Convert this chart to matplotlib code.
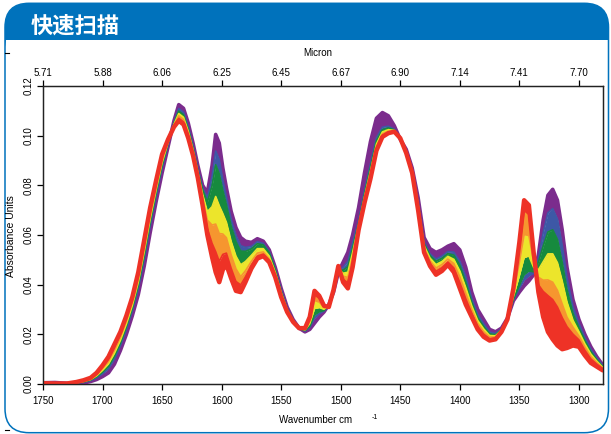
import matplotlib
matplotlib.use("Agg")
import matplotlib.pyplot as plt
from matplotlib.patches import FancyBboxPatch, Rectangle

plt.rcParams['font.family'] = ['Liberation Sans', 'DejaVu Sans']

# ---------------- data ----------------
wavenumber = [1750,1740,1730,1722,1716, 1710,1705,1700,1695,1690,
              1685,1680,1675,1670,1665, 1660,1655,1650,1645,1640,
              1636,1632,1628,1624,1620, 1616,1612,1608,1605,1602,
              1599,1596,1592,1588,1584, 1580,1575,1570,1565,1560,
              1555,1550,1545,1540,1535, 1530,1526,1522,1518,1514,
              1510,1506,1502,1498,1494, 1490,1485,1480,1475,1470,
              1465,1460,1455,1450,1445, 1440,1435,1430,1425,1420,
              1415,1410,1405,1400,1395, 1390,1385,1380,1375,1370,
              1365,1360,1355,1350,1346, 1342,1338,1334,1330,1326,
              1322,1318,1314,1310,1305, 1300,1295,1290,1285,1280]

# band boundaries: first spectrum group (purple) ... last (red)
s0 = [0.0005,0.0006,0.0003,0.0002,0.0004, 0.0010,0.0018,0.0030,0.0045,0.0080,
      0.0135,0.0200,0.0275,0.0360,0.0475, 0.0610,0.0735,0.0850,0.0955,0.1060,
      0.1125,0.1110,0.1050,0.0970,0.0880, 0.0800,0.0770,0.0880,0.1005,0.0970,
      0.0870,0.0790,0.0695,0.0630,0.0590, 0.0575,0.0570,0.0585,0.0575,0.0540,
      0.0470,0.0385,0.0310,0.0260,0.0225, 0.0210,0.0220,0.0245,0.0270,0.0290,
      0.0320,0.0370,0.0450,0.0490,0.0530, 0.0600,0.0710,0.0850,0.0976,0.1070,
      0.1093,0.1080,0.1040,0.0985,0.0945, 0.0870,0.0750,0.0590,0.0545,0.0530,
      0.0540,0.0555,0.0565,0.0540,0.0470, 0.0370,0.0300,0.0260,0.0220,0.0210,
      0.0225,0.0265,0.0335,0.0370,0.0395, 0.0415,0.0440,0.0520,0.0660,0.0760,
      0.0784,0.0740,0.0620,0.0470,0.0340, 0.0260,0.0200,0.0150,0.0110,0.0077]
s1 = [0.0005,0.0005,0.0003,0.0004,0.0007, 0.0014,0.0025,0.0041,0.0061,0.0100,
      0.0154,0.0219,0.0294,0.0383,0.0501, 0.0635,0.0756,0.0869,0.0963,0.1054,
      0.1109,0.1094,0.1035,0.0958,0.0868, 0.0790,0.0750,0.0836,0.0938,0.0903,
      0.0821,0.0753,0.0663,0.0599,0.0557, 0.0550,0.0554,0.0573,0.0566,0.0533,
      0.0464,0.0378,0.0306,0.0258,0.0225, 0.0213,0.0228,0.0265,0.0283,0.0294,
      0.0319,0.0372,0.0456,0.0470,0.0494, 0.0568,0.0656,0.0778,0.0887,0.0992,
      0.1034,0.1038,0.1026,0.0988,0.0936, 0.0864,0.0735,0.0572,0.0524,0.0503,
      0.0515,0.0533,0.0531,0.0494,0.0433, 0.0345,0.0280,0.0243,0.0209,0.0203,
      0.0221,0.0264,0.0339,0.0384,0.0419, 0.0436,0.0446,0.0505,0.0609,0.0689,
      0.0706,0.0664,0.0558,0.0428,0.0312, 0.0244,0.0187,0.0140,0.0104,0.0074]
s2 = [0.0004,0.0004,0.0003,0.0004,0.0008, 0.0016,0.0029,0.0048,0.0071,0.0112,
      0.0165,0.0230,0.0305,0.0396,0.0517, 0.0650,0.0769,0.0880,0.0967,0.1050,
      0.1099,0.1084,0.1026,0.0950,0.0860, 0.0782,0.0733,0.0799,0.0883,0.0847,
      0.0780,0.0722,0.0636,0.0574,0.0535, 0.0534,0.0544,0.0565,0.0560,0.0528,
      0.0460,0.0373,0.0303,0.0257,0.0225, 0.0215,0.0233,0.0278,0.0291,0.0296,
      0.0318,0.0373,0.0460,0.0458,0.0472, 0.0548,0.0647,0.0766,0.0872,0.0979,
      0.1024,0.1031,0.1023,0.0989,0.0935, 0.0862,0.0730,0.0566,0.0517,0.0494,
      0.0506,0.0525,0.0519,0.0478,0.0410, 0.0330,0.0268,0.0232,0.0202,0.0198,
      0.0219,0.0263,0.0342,0.0396,0.0440, 0.0455,0.0452,0.0490,0.0555,0.0612,
      0.0621,0.0582,0.0490,0.0382,0.0285, 0.0227,0.0175,0.0131,0.0098,0.0070]
s3 = [0.0004,0.0004,0.0002,0.0005,0.0010, 0.0018,0.0033,0.0055,0.0081,0.0124,
      0.0176,0.0241,0.0316,0.0410,0.0533, 0.0665,0.0782,0.0891,0.0972,0.1046,
      0.1089,0.1074,0.1017,0.0943,0.0853, 0.0764,0.0694,0.0714,0.0755,0.0718,
      0.0686,0.0651,0.0574,0.0515,0.0480, 0.0493,0.0518,0.0545,0.0545,0.0515,
      0.0450,0.0368,0.0300,0.0255,0.0225, 0.0218,0.0243,0.0304,0.0308,0.0301,
      0.0316,0.0375,0.0464,0.0446,0.0450, 0.0529,0.0638,0.0754,0.0857,0.0966,
      0.1015,0.1024,0.1021,0.0989,0.0933, 0.0859,0.0723,0.0557,0.0507,0.0481,
      0.0493,0.0514,0.0502,0.0455,0.0388, 0.0315,0.0256,0.0222,0.0195,0.0194,
      0.0217,0.0262,0.0352,0.0436,0.0509, 0.0516,0.0470,0.0460,0.0492,0.0524,
      0.0524,0.0488,0.0414,0.0330,0.0257, 0.0211,0.0162,0.0121,0.0092,0.0067]
s4 = [0.0004,0.0003,0.0002,0.0006,0.0012, 0.0021,0.0037,0.0062,0.0091,0.0136,
      0.0188,0.0253,0.0328,0.0423,0.0549, 0.0680,0.0795,0.0903,0.0976,0.1043,
      0.1080,0.1065,0.1008,0.0935,0.0845, 0.0748,0.0660,0.0640,0.0644,0.0606,
      0.0604,0.0589,0.0520,0.0464,0.0432, 0.0456,0.0494,0.0527,0.0532,0.0504,
      0.0441,0.0361,0.0296,0.0253,0.0225, 0.0221,0.0255,0.0336,0.0330,0.0308,
      0.0313,0.0377,0.0468,0.0434,0.0429, 0.0509,0.0631,0.0744,0.0845,0.0956,
      0.1007,0.1018,0.1019,0.0989,0.0932, 0.0856,0.0715,0.0548,0.0496,0.0467,
      0.0481,0.0503,0.0485,0.0432,0.0365, 0.0300,0.0244,0.0211,0.0189,0.0189,
      0.0215,0.0262,0.0365,0.0490,0.0602, 0.0598,0.0494,0.0430,0.0418,0.0419,
      0.0410,0.0377,0.0322,0.0269,0.0229, 0.0194,0.0149,0.0111,0.0086,0.0064]
s5 = [0.0003,0.0003,0.0002,0.0007,0.0013, 0.0023,0.0041,0.0068,0.0100,0.0148,
      0.0199,0.0264,0.0339,0.0437,0.0564, 0.0695,0.0807,0.0914,0.0981,0.1039,
      0.1070,0.1055,0.0999,0.0928,0.0838, 0.0732,0.0626,0.0566,0.0533,0.0494,
      0.0522,0.0527,0.0466,0.0413,0.0399, 0.0431,0.0479,0.0515,0.0523,0.0497,
      0.0435,0.0355,0.0293,0.0252,0.0225, 0.0223,0.0264,0.0359,0.0345,0.0312,
      0.0311,0.0379,0.0471,0.0422,0.0407, 0.0490,0.0625,0.0737,0.0836,0.0948,
      0.1001,0.1014,0.1017,0.0990,0.0931, 0.0853,0.0708,0.0539,0.0486,0.0454,
      0.0468,0.0491,0.0467,0.0408,0.0343, 0.0285,0.0232,0.0201,0.0182,0.0185,
      0.0212,0.0261,0.0379,0.0546,0.0699, 0.0683,0.0519,0.0400,0.0373,0.0356,
      0.0340,0.0310,0.0267,0.0231,0.0201, 0.0178,0.0136,0.0101,0.0080,0.0061]
s6 = [0.0003,0.0002,0.0002,0.0008,0.0015, 0.0025,0.0045,0.0075,0.0110,0.0160,
      0.0210,0.0275,0.0350,0.0450,0.0580, 0.0710,0.0820,0.0925,0.0985,0.1035,
      0.1060,0.1045,0.0990,0.0920,0.0830, 0.0720,0.0600,0.0510,0.0450,0.0410,
      0.0460,0.0480,0.0425,0.0375,0.0370, 0.0410,0.0465,0.0505,0.0515,0.0490,
      0.0430,0.0350,0.0290,0.0250,0.0225, 0.0225,0.0270,0.0375,0.0355,0.0315,
      0.0310,0.0380,0.0475,0.0410,0.0385, 0.0470,0.0620,0.0730,0.0827,0.0940,
      0.0995,0.1010,0.1016,0.0990,0.0930, 0.0850,0.0700,0.0530,0.0475,0.0440,
      0.0455,0.0480,0.0450,0.0385,0.0320, 0.0270,0.0220,0.0190,0.0175,0.0180,
      0.0210,0.0260,0.0385,0.0570,0.0740, 0.0720,0.0530,0.0370,0.0270,0.0210,
      0.0180,0.0155,0.0140,0.0145,0.0155, 0.0150,0.0115,0.0085,0.0070,0.0055]

bounds = [s0, s1, s2, s3, s4, s5, s6]
band_colors = ['#7B2C8D', '#3D58A6', '#168A3E', '#ECE52B', '#F6962F', '#EE3226']

wn_ticks = [1750, 1700, 1650, 1600, 1550, 1500, 1450, 1400, 1350, 1300]
micron_labels = ['5.71', '5.88', '6.06', '6.25', '6.45', '6.67', '6.90', '7.14', '7.41', '7.70']
y_ticks = [0.00, 0.02, 0.04, 0.06, 0.08, 0.10, 0.12]
y_labels = ['0.00', '0.02', '0.04', '0.06', '0.08', '0.10', '0.12']

title = '快速扫描'
blue = '#0072BC'

# ---------------- figure ----------------
W, H = 611, 434
fig = plt.figure(figsize=(W / 100, H / 100), dpi=100)
fig.patch.set_facecolor('white')

bg = fig.add_axes([0, 0, 1, 1], zorder=0)
bg.set_xlim(0, W)
bg.set_ylim(0, H)
bg.axis('off')

# header bar (rounded top)
bg.add_patch(FancyBboxPatch((5, H - 62), 603.5, 62 - 3.3,
                            boxstyle='round,pad=0,rounding_size=24',
                            fc=blue, ec='none'))
bg.add_patch(Rectangle((5.6, H - 63), 602.3, 63 - 39.5, fc='white', ec='none'))
# frame
bg.add_patch(FancyBboxPatch((5, H - 432.7), 603.5, 432.7 - 3.3,
                            boxstyle='round,pad=0,rounding_size=24',
                            fc='none', ec=blue, lw=1.1))
bg.text(31, H - 26.5, title, color='white', fontsize=16, fontweight='bold',
        family=['Noto Sans CJK SC', 'DejaVu Sans'], ha='left', va='center')
bg.plot([5, 9], [H - 53, H - 53], color='black', lw=0.8)
bg.plot([5, 9], [H - 430, H - 430], color='black', lw=0.8)

# main axes
ax = fig.add_axes([43 / W, (H - 384) / H, (602.7 - 43) / W, (384 - 86) / H], zorder=1)
ax.set_xlim(1750, 1280)
ax.set_ylim(0, 0.12)

for k in range(6):
    ax.fill_between(wavenumber, bounds[k], bounds[k + 1], color=band_colors[k],
                    lw=0, zorder=2 + k * 0.1)
for k in range(1, 6):
    ax.plot(wavenumber, bounds[k], color=band_colors[k], lw=1.2,
            solid_joinstyle='round', zorder=3 + k * 0.1)
ax.plot(wavenumber, s0, color=band_colors[0], lw=2.6, solid_joinstyle='round',
        solid_capstyle='round', zorder=3)
ax.plot(wavenumber, s6, color=band_colors[5], lw=3.2, solid_joinstyle='round',
        solid_capstyle='round', zorder=4)

ax.set_xticks(wn_ticks)
ax.set_xticklabels([str(t) for t in wn_ticks])
ax.set_yticks(y_ticks)
ax.set_yticklabels(y_labels, rotation=90, va='center')
ax.tick_params(axis='x', direction='out', length=4.5, width=0.9, pad=4.5, labelsize=7)
ax.tick_params(axis='y', direction='out', length=4, width=0.9, pad=3, labelsize=7)
for sp in ax.spines.values():
    sp.set_linewidth(0.9)
    sp.set_color('#222222')

ax2 = ax.twiny()
ax2.set_xlim(1750, 1280)
ax2.set_xticks(wn_ticks)
ax2.set_xticklabels(micron_labels)
ax2.tick_params(axis='x', direction='out', length=4.5, width=0.9, pad=1.5, labelsize=7)
for sp in ax2.spines.values():
    sp.set_linewidth(0.9)
    sp.set_color('#222222')

fig.text(317.6 / W, 1 - 53 / H, 'Micron', fontsize=7, ha='center', va='center')
fig.text(316 / W, 1 - 420 / H, 'Wavenumber cm', fontsize=7, ha='center', va='center')
fig.text(371.5 / W, 1 - 417.5 / H, '-1', fontsize=5, ha='left', va='center')
fig.text(11 / W, 1 - 236 / H, 'Absorbance Units', fontsize=7.5, rotation=90,
         ha='center', va='center')

fig.savefig('out.png', dpi=100, facecolor='white')
